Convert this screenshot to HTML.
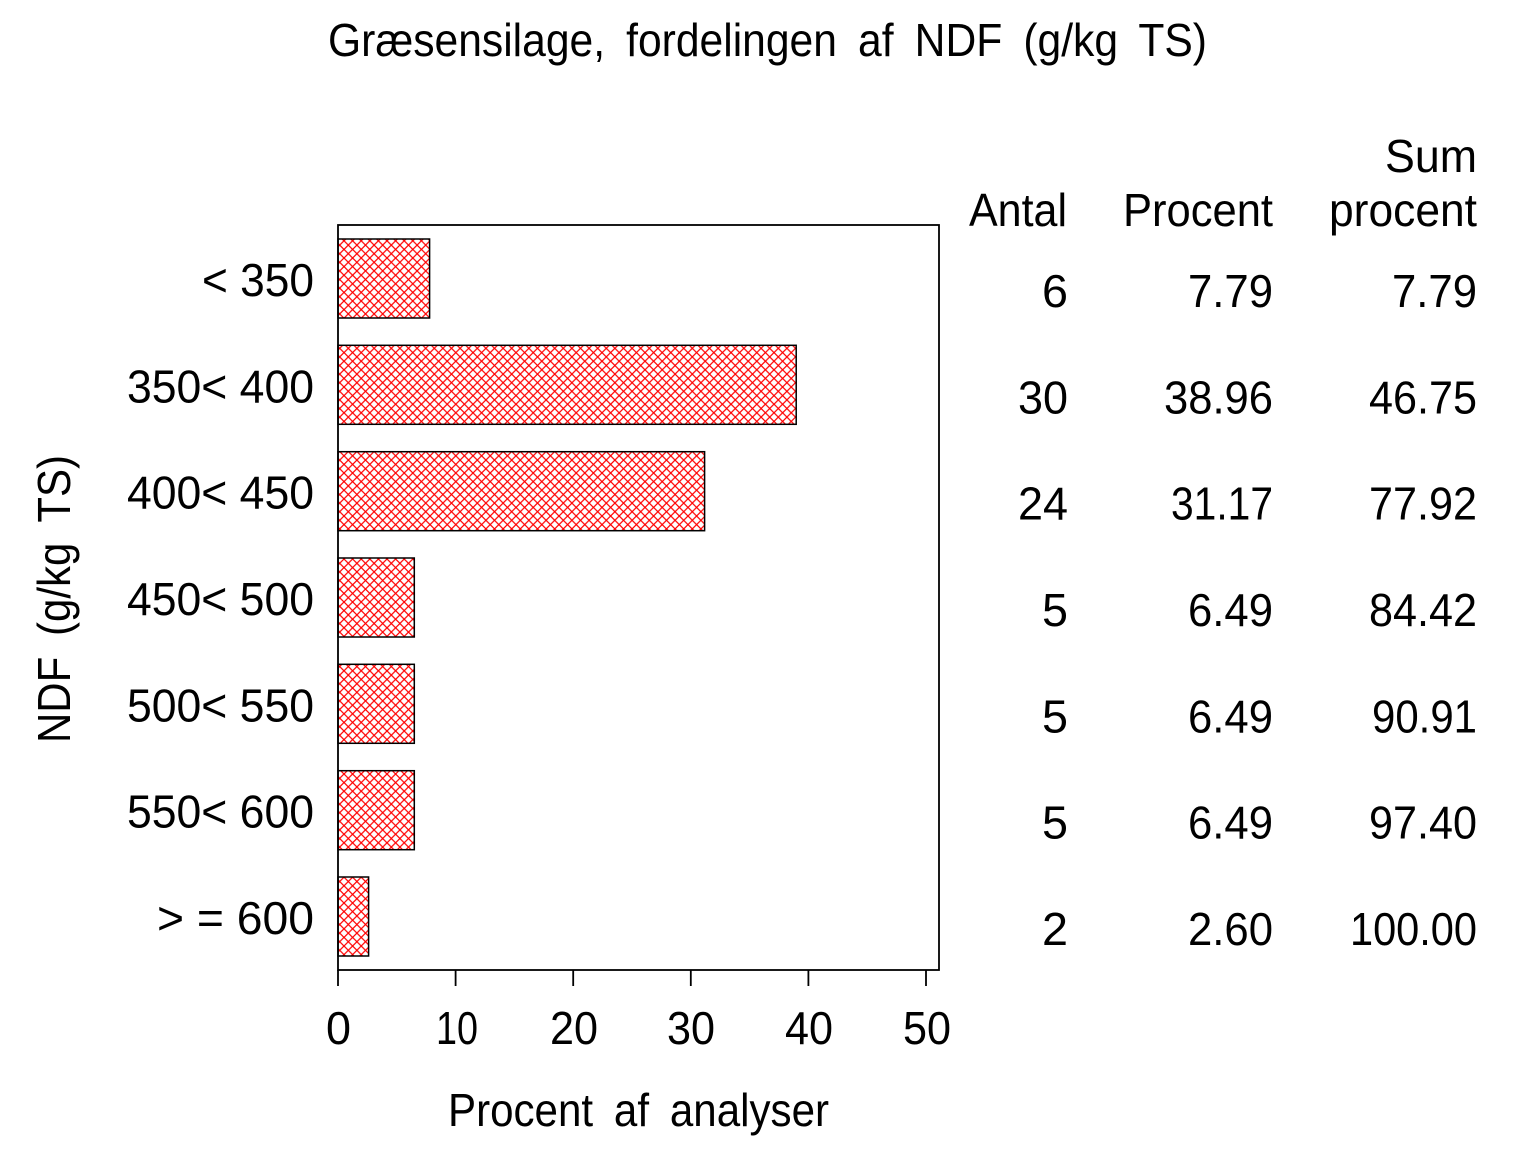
<!DOCTYPE html>
<html>
<head>
<meta charset="utf-8">
<style>
html,body{margin:0;padding:0;background:#fff;}
svg{display:block;}
text{font-family:"Liberation Sans",Arial,sans-serif;fill:#000;}
</style>
</head>
<body>
<svg width="1536" height="1152" viewBox="0 0 1536 1152" xmlns="http://www.w3.org/2000/svg">
<defs>
<pattern id="hatch" patternUnits="userSpaceOnUse" width="8.6" height="8.6">
<rect width="8.6" height="8.6" fill="#fff"/>
<path d="M0,0 L8.6,8.6 M8.6,0 L0,8.6" stroke="#ff0000" stroke-width="1.25" fill="none"/>
</pattern>
</defs>
<rect width="1536" height="1152" fill="#fff"/>

<!-- Title -->
<text x="328" y="56" font-size="46" word-spacing="10" textLength="879" lengthAdjust="spacingAndGlyphs">Græsensilage, fordelingen af NDF (g/kg TS)</text>

<!-- Bars -->
<g stroke="#000" stroke-width="1.5" fill="url(#hatch)">
<rect x="338" y="239" width="91.6" height="79"/>
<rect x="338" y="345.3" width="458.2" height="79"/>
<rect x="338" y="451.7" width="366.6" height="79"/>
<rect x="338" y="558" width="76.3" height="79"/>
<rect x="338" y="664.3" width="76.3" height="79"/>
<rect x="338" y="770.7" width="76.3" height="79"/>
<rect x="338" y="877" width="30.6" height="79"/>
</g>

<!-- Frame -->
<rect x="338" y="225" width="601" height="745" fill="none" stroke="#000" stroke-width="1.8"/>

<!-- X ticks -->
<g stroke="#000" stroke-width="1.8">
<line x1="338" y1="970" x2="338" y2="986"/>
<line x1="455.6" y1="970" x2="455.6" y2="986"/>
<line x1="573.2" y1="970" x2="573.2" y2="986"/>
<line x1="690.8" y1="970" x2="690.8" y2="986"/>
<line x1="808.4" y1="970" x2="808.4" y2="986"/>
<line x1="926" y1="970" x2="926" y2="986"/>
</g>
<g font-size="46">
<text x="326" y="1044" textLength="25" lengthAdjust="spacingAndGlyphs">0</text>
<text x="436" y="1044" textLength="42" lengthAdjust="spacingAndGlyphs">10</text>
<text x="550" y="1044" textLength="48" lengthAdjust="spacingAndGlyphs">20</text>
<text x="667" y="1044" textLength="48" lengthAdjust="spacingAndGlyphs">30</text>
<text x="785" y="1044" textLength="48" lengthAdjust="spacingAndGlyphs">40</text>
<text x="903" y="1044" textLength="48" lengthAdjust="spacingAndGlyphs">50</text>
</g>

<!-- X label -->
<text x="448" y="1126" font-size="46" word-spacing="10" textLength="381" lengthAdjust="spacingAndGlyphs">Procent af analyser</text>

<!-- Y label -->
<text transform="translate(70,743) rotate(-90)" font-size="46" word-spacing="10" textLength="288" lengthAdjust="spacingAndGlyphs">NDF (g/kg TS)</text>

<!-- Row labels -->
<g font-size="46">
<text x="202" y="296" textLength="112" lengthAdjust="spacingAndGlyphs">&lt; 350</text>
<text x="127" y="402.3" textLength="187" lengthAdjust="spacingAndGlyphs">350&lt; 400</text>
<text x="127" y="508.7" textLength="187" lengthAdjust="spacingAndGlyphs">400&lt; 450</text>
<text x="127" y="615" textLength="187" lengthAdjust="spacingAndGlyphs">450&lt; 500</text>
<text x="127" y="721.3" textLength="187" lengthAdjust="spacingAndGlyphs">500&lt; 550</text>
<text x="127" y="827.7" textLength="187" lengthAdjust="spacingAndGlyphs">550&lt; 600</text>
<text x="157" y="934" textLength="157" lengthAdjust="spacingAndGlyphs">&gt; = 600</text>
</g>

<!-- Table headers -->
<g font-size="46">
<text x="1385" y="172" textLength="92" lengthAdjust="spacingAndGlyphs">Sum</text>
<text x="969" y="226" textLength="98" lengthAdjust="spacingAndGlyphs">Antal</text>
<text x="1123" y="226" textLength="150" lengthAdjust="spacingAndGlyphs">Procent</text>
<text x="1329" y="226" textLength="148" lengthAdjust="spacingAndGlyphs">procent</text>
</g>

<!-- Table values -->
<g font-size="46">
<text x="1042" y="307" textLength="26" lengthAdjust="spacingAndGlyphs">6</text>
<text x="1188" y="307" textLength="85" lengthAdjust="spacingAndGlyphs">7.79</text>
<text x="1392" y="307" textLength="85" lengthAdjust="spacingAndGlyphs">7.79</text>

<text x="1018" y="413.3" textLength="50" lengthAdjust="spacingAndGlyphs">30</text>
<text x="1164" y="413.3" textLength="109" lengthAdjust="spacingAndGlyphs">38.96</text>
<text x="1369" y="413.3" textLength="108" lengthAdjust="spacingAndGlyphs">46.75</text>

<text x="1018" y="519.7" textLength="50" lengthAdjust="spacingAndGlyphs">24</text>
<text x="1171" y="519.7" textLength="102" lengthAdjust="spacingAndGlyphs">31.17</text>
<text x="1369" y="519.7" textLength="108" lengthAdjust="spacingAndGlyphs">77.92</text>

<text x="1042" y="626" textLength="26" lengthAdjust="spacingAndGlyphs">5</text>
<text x="1188" y="626" textLength="85" lengthAdjust="spacingAndGlyphs">6.49</text>
<text x="1369" y="626" textLength="108" lengthAdjust="spacingAndGlyphs">84.42</text>

<text x="1042" y="732.3" textLength="26" lengthAdjust="spacingAndGlyphs">5</text>
<text x="1188" y="732.3" textLength="85" lengthAdjust="spacingAndGlyphs">6.49</text>
<text x="1372" y="732.3" textLength="105" lengthAdjust="spacingAndGlyphs">90.91</text>

<text x="1042" y="838.7" textLength="26" lengthAdjust="spacingAndGlyphs">5</text>
<text x="1188" y="838.7" textLength="85" lengthAdjust="spacingAndGlyphs">6.49</text>
<text x="1369" y="838.7" textLength="108" lengthAdjust="spacingAndGlyphs">97.40</text>

<text x="1042" y="945" textLength="26" lengthAdjust="spacingAndGlyphs">2</text>
<text x="1188" y="945" textLength="85" lengthAdjust="spacingAndGlyphs">2.60</text>
<text x="1350" y="945" textLength="127" lengthAdjust="spacingAndGlyphs">100.00</text>
</g>
</svg>
</body>
</html>
